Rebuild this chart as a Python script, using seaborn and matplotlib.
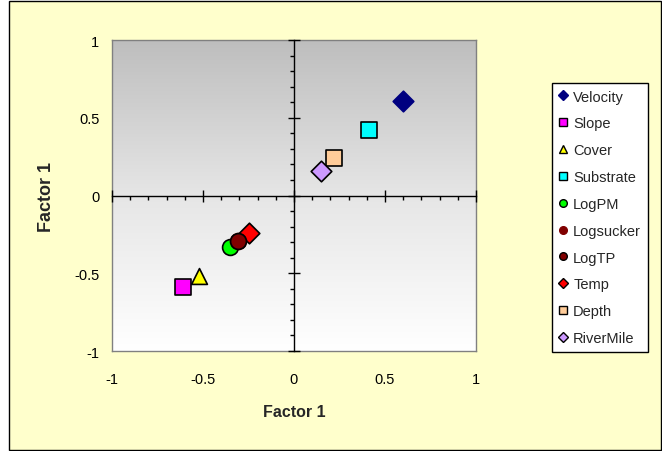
import numpy as np
import pandas as pd
import matplotlib
matplotlib.use("Agg")
import matplotlib.pyplot as plt
from matplotlib.colors import LinearSegmentedColormap
from matplotlib.patches import Rectangle
from matplotlib.lines import Line2D
import seaborn as sns

names = ["Velocity", "Slope", "Cover", "Substrate", "LogPM", "Logsucker", "LogTP", "Temp", "Depth", "RiverMile"]
xvals = [0.60, -0.61, -0.52, 0.41, -0.35, -0.31, -0.31, -0.25, 0.22, 0.15]
yvals = [0.61, -0.59, -0.52, 0.42, -0.33, -0.29, -0.29, -0.24, 0.24, 0.16]
colors = ["#000080", "#FF00FF", "#FFFF00", "#00FFFF", "#00FF00", "#800000", "#800000", "#FF0000", "#FFCC99", "#CC99FF"]
markers = ["D", "s", "^", "s", "o", "o", "o", "D", "s", "D"]
edges = ["#000080", "black", "black", "black", "black", "#800000", "black", "black", "black", "black"]
draw_order = [0, 2, 1, 3, 7, 4, 5, 6, 8, 9]
ticks = [-1, -0.5, 0, 0.5, 1]
tick_labels = ["-1", "-0.5", "0", "0.5", "1"]

sns.set_style("white")
plt.rcParams['font.family'] = ['Liberation Sans', 'DejaVu Sans']

fig = plt.figure(figsize=(6.62, 4.52), dpi=100)
fig.patch.set_facecolor("white")
fig.patches.append(Rectangle((8.5 / 662, 1.5 / 452), (660.5 - 8.5) / 662, (450.5 - 1.5) / 452,
                             transform=fig.transFigure, facecolor="#FFFFCC", edgecolor="black",
                             linewidth=1.0, zorder=-10))

pos = [112 / 662, (452 - 352) / 452, (476 - 112) / 662, (352 - 41) / 452]
ax = fig.add_axes(pos)
ax.set_xlim(-1, 1)
ax.set_ylim(-1, 1)
cmap = LinearSegmentedColormap.from_list("g", ["#FFFFFF", "#E6E6E6", "#BEBEBE"])
grad = np.linspace(0, 1, 256)[:, None]
ax.imshow(grad, extent=(-1, 1, -1, 1), origin="lower", aspect="auto", cmap=cmap, zorder=0)
for s in ax.spines.values():
    s.set_color("#808080")
    s.set_linewidth(1.0)
ax.set_xticks(ticks)
ax.set_xticklabels(tick_labels)
ax.set_yticks(ticks)
ax.set_yticklabels(tick_labels)
ax.tick_params(length=0, labelsize=10.5, colors="black")
ax.tick_params(axis="x", pad=15)
ax.tick_params(axis="y", pad=9)
ax.set_xlabel("Factor 1", fontsize=11.5, fontweight="bold", labelpad=13)
ax.set_ylabel("Factor 1", fontsize=13, fontweight="bold", labelpad=14)

# centre axes with ticks
ax2 = fig.add_axes(pos)
ax2.set_xlim(-1, 1)
ax2.set_ylim(-1, 1)
ax2.patch.set_visible(False)
ax2.spines["top"].set_visible(False)
ax2.spines["right"].set_visible(False)
ax2.spines["left"].set_position(("data", 0))
ax2.spines["bottom"].set_position(("data", 0))
for s in ("left", "bottom"):
    ax2.spines[s].set_color("black")
    ax2.spines[s].set_linewidth(1.0)
ax2.set_xticks(ticks)
ax2.set_yticks(ticks)
ax2.set_xticks(np.arange(-1, 1.01, 0.1), minor=True)
ax2.set_yticks(np.arange(-1, 1.01, 0.1), minor=True)
ax2.set_xticklabels([])
ax2.set_yticklabels([])
ax2.tick_params(which="both", bottom=True, left=True, top=False, right=False,
                labelbottom=False, labelleft=False)
ax2.tick_params(which="major", direction="inout", length=8, width=1, color="black")
ax2.tick_params(which="minor", direction="out", length=3, width=1, color="black")

df = pd.DataFrame({"name": names, "x": xvals, "y": yvals})
sizes = {"D": 110, "s": 120, "^": 130, "o": 130}
for z, i in enumerate(draw_order):
    sns.scatterplot(data=df.iloc[[i]], x="x", y="y", ax=ax2, color=colors[i], marker=markers[i],
                    s=sizes[markers[i]], edgecolor=edges[i], linewidth=1.2, zorder=5 + z, legend=False)
ax2.set_xlabel("")
ax2.set_ylabel("")

handles = [Line2D([], [], linestyle="none", marker=markers[i], markerfacecolor=colors[i],
                  markeredgecolor=edges[i], markeredgewidth=1.0,
                  markersize=5.5 if markers[i] != "D" else 5) for i in range(len(names))]
leg = fig.legend(handles, names, loc="upper left", bbox_to_anchor=(552 / 662, (452 - 84) / 452),
                 bbox_transform=fig.transFigure, fontsize=10.5, frameon=True, fancybox=False,
                 edgecolor="black", facecolor="white", framealpha=1, labelspacing=0.88,
                 handlelength=0.6, handletextpad=0.4, borderpad=0.45, borderaxespad=0)
leg.get_frame().set_linewidth(1.0)

fig.savefig("out.png", dpi=100, facecolor=fig.get_facecolor())
